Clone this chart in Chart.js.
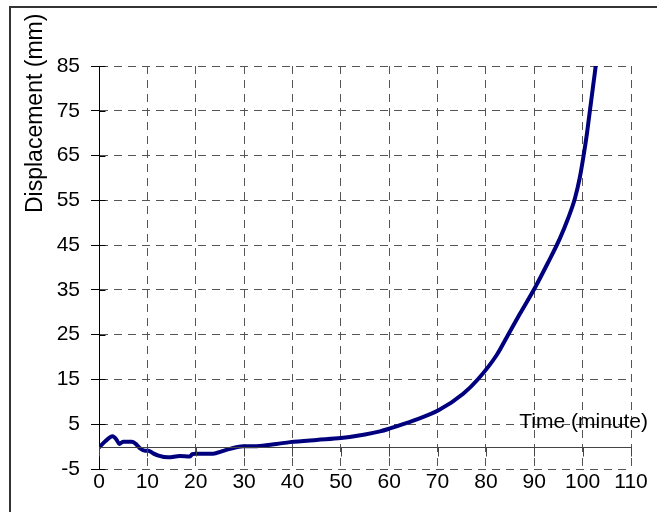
<!DOCTYPE html>
<html>
<head>
<meta charset="utf-8">
<script src="https://cdn.jsdelivr.net/npm/chart.js@4/dist/chart.umd.min.js"></script>
<style>
html,body{margin:0;padding:0;background:#fff;overflow:hidden;}
#wrap{position:relative;width:657px;height:512px;}
#frame{position:absolute;left:9px;top:6px;width:700px;height:600px;border-left:2px solid #333;border-top:2px solid #333;box-sizing:border-box;pointer-events:none;}
canvas{position:absolute;left:0;top:0;}
</style>
</head>
<body>
<div id="wrap">
<canvas id="c" width="657" height="512"></canvas>
<div id="frame"></div>
</div>
<script>
// Data
const time = [0, 1.3, 2.8, 3.6, 4.2, 5, 6.8, 7.6, 8.5, 9.5, 10.2, 11.2, 12.3, 14.3, 16.7, 18.8, 19.3, 20, 23.6, 25.5, 27.1, 29.8, 32.6, 36.7, 39.5, 45, 50, 55, 58.1, 60, 65, 70.2, 75.3, 78.4, 82.2, 84.6, 87, 90.2, 92.8, 95.3, 97, 98.4, 99.4, 100.2, 100.9, 101.5, 102.1, 102.7, 103.0];
const displacement = [-0.2, 1.2, 2.3, 1.6, 0.6, 1.1, 1.1, 0.6, -0.4, -0.9, -0.9, -1.5, -2.0, -2.4, -2.1, -2.2, -1.7, -1.6, -1.6, -1.0, -0.5, 0.1, 0.1, 0.6, 1.0, 1.5, 1.9, 2.7, 3.4, 4.0, 5.8, 8.1, 11.8, 15.1, 20.4, 25, 29.6, 35.6, 41, 46.5, 51, 55.4, 60, 65, 70, 75, 80, 85, 88];
const xTicks = [0, 10, 20, 30, 40, 50, 60, 70, 80, 90, 100, 110];
const yTicks = [-5, 5, 15, 25, 35, 45, 55, 65, 75, 85];
const xTitle = 'Time (minute)';
const yTitle = 'Displacement (mm)';

const FONT = '"Liberation Sans", Arial, sans-serif';

const points = time.map((t, i) => ({x: t, y: displacement[i]}));

const overlay = {
  id: 'overlay',
  afterDatasetsDraw(chart) {
    const {ctx, chartArea, scales} = chart;
    const xs = scales.x, ys = scales.y;
    const y0 = Math.round(ys.getPixelForValue(0)) + 0.5;
    ctx.save();
    // zero line with tick marks
    ctx.strokeStyle = '#444';
    ctx.lineWidth = 1;
    ctx.beginPath();
    ctx.moveTo(xs.getPixelForValue(xTicks[0]), y0);
    ctx.lineTo(xs.getPixelForValue(xTicks[xTicks.length - 1]), y0);
    xTicks.forEach(v => {
      const px = Math.round(xs.getPixelForValue(v)) + 0.5;
      ctx.moveTo(px, y0);
      ctx.lineTo(px, y0 + 9);
    });
    ctx.stroke();
    // y axis tick marks crossing the axis
    ctx.strokeStyle = '#000';
    ctx.beginPath();
    const ax = Math.round(xs.getPixelForValue(0)) + 0.5;
    yTicks.forEach(v => {
      const py = Math.round(ys.getPixelForValue(v)) + 0.5;
      ctx.moveTo(ax, py);
      ctx.lineTo(ax + 6, py);
    });
    ctx.stroke();
    // x title above the zero line at right
    ctx.fillStyle = '#000';
    ctx.font = '21px ' + FONT;
    ctx.textAlign = 'right';
    ctx.textBaseline = 'middle';
    ctx.fillText(xTitle, chartArea.right + 17, ys.getPixelForValue(5.5));
    // y title rotated, top-aligned
    ctx.font = '23px ' + FONT;
    ctx.translate(36, 213);
    ctx.rotate(-Math.PI / 2);
    ctx.textAlign = 'left';
    ctx.fillText(yTitle, 0, 0);
    ctx.restore();
  }
};

new Chart(document.getElementById('c'), {
  type: 'line',
  data: {
    datasets: [{
      data: points,
      borderColor: '#00007f',
      borderWidth: 4,
      pointRadius: 0,
      cubicInterpolationMode: 'monotone',
      fill: false
    }]
  },
  options: {
    responsive: false,
    animation: false,
    plugins: {legend: {display: false}, tooltip: {enabled: false}},
    layout: {padding: {left: 0, right: 26, top: 66, bottom: 0}},
    scales: {
      x: {
        type: 'linear',
        min: xTicks[0],
        max: xTicks[xTicks.length - 1],
        afterBuildTicks: s => { s.ticks = xTicks.map(v => ({value: v})); },
        afterFit: s => { s.height = 43; },
        border: {display: false, dash: [8, 6]},
        grid: {color: '#555', lineWidth: 1, drawTicks: false},
        ticks: {color: '#000', font: {family: FONT, size: 21}, padding: 1, maxRotation: 0, autoSkip: false}
      },
      y: {
        type: 'linear',
        min: yTicks[0],
        max: yTicks[yTicks.length - 1],
        afterBuildTicks: s => { s.ticks = yTicks.map(v => ({value: v})); },
        afterFit: s => { s.width = 99; },
        border: {display: true, color: '#000', width: 1, dash: [8, 6]},
        grid: {color: '#555', lineWidth: 1, drawTicks: true, tickLength: 8, tickColor: '#000', tickBorderDash: []},
        ticks: {color: '#000', font: {family: FONT, size: 21}, padding: 11, autoSkip: false}
      }
    }
  },
  plugins: [overlay]
});
</script>
</body>
</html>
